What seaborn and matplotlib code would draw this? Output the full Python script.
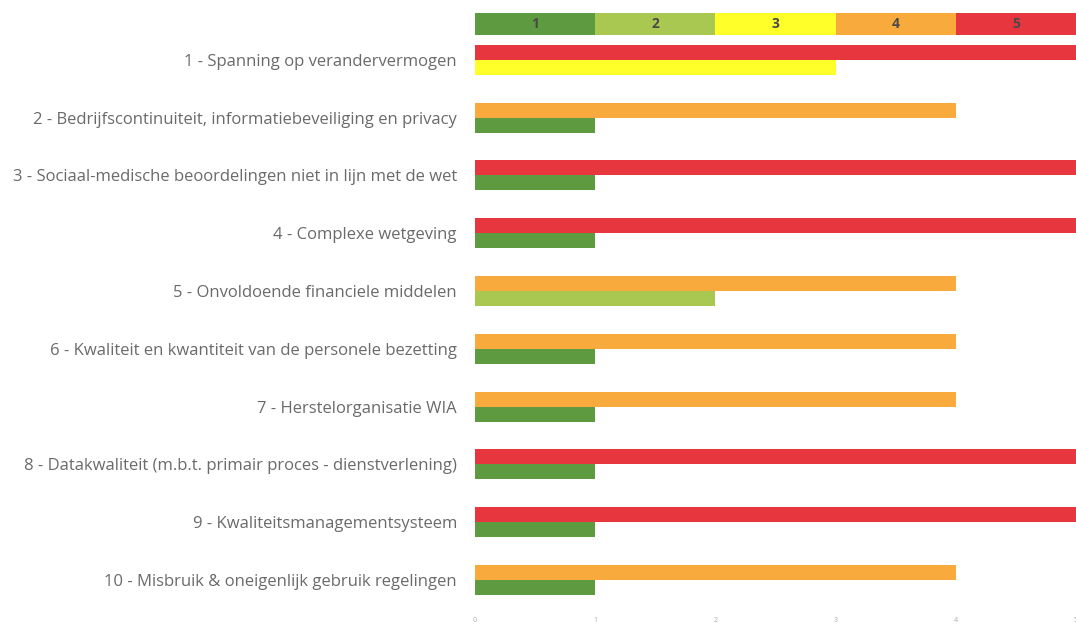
import matplotlib.pyplot as plt
import pandas as pd
import seaborn as sns

# risk names, gross (top bar) and net (bottom bar) scores
risks = [
    "1 - Spanning op verandervermogen",
    "2 - Bedrijfscontinuiteit, informatiebeveiliging en privacy",
    "3 - Sociaal-medische beoordelingen niet in lijn met de wet",
    "4 - Complexe wetgeving",
    "5 - Onvoldoende financiele middelen",
    "6 - Kwaliteit en kwantiteit van de personele bezetting",
    "7 - Herstelorganisatie WIA",
    "8 - Datakwaliteit (m.b.t. primair proces - dienstverlening)",
    "9 - Kwaliteitsmanagementsysteem",
    "10 - Misbruik & oneigenlijk gebruik regelingen",
]
bruto = [5, 4, 5, 5, 4, 4, 4, 5, 5, 4]
netto = [3, 1, 1, 1, 2, 1, 1, 1, 1, 1]

levels = [1, 2, 3, 4, 5]
level_colors = ["#5e9a3f", "#a9c851", "#ffff2a", "#f8ab3c", "#e8363e"]
x_ticks = [0, 1, 2, 3, 4, 5]

sns.set_theme(style="white")
plt.rcParams["font.family"] = ["Open Sans", "DejaVu Sans"]

df = pd.DataFrame({
    "Risico": risks * 2,
    "Score": bruto + netto,
    "Type": ["Bruto"] * len(risks) + ["Netto"] * len(risks),
})

fig = plt.figure(figsize=(10.76, 6.31), dpi=100)
ax = fig.add_axes([0.4414, 0.026, 0.5586, 0.934])

sns.barplot(data=df, x="Score", y="Risico", hue="Type", orient="h",
            width=0.52, gap=0, dodge=True, legend=False, ax=ax,
            order=risks, hue_order=["Bruto", "Netto"])

# colour every bar by its score
for p in ax.patches:
    w = p.get_width()
    if w > 0:
        p.set_facecolor(level_colors[int(round(w)) - 1])
        p.set_edgecolor("none")

ax.set_xlim(0, 5)
ax.set_ylim(9.6, -0.6)
ax.set_xticks(x_ticks)
ax.set_xticklabels([str(t) for t in x_ticks], fontsize=5, color="#aaaaaa")
ax.set_xlabel("")
ax.set_ylabel("")
ax.tick_params(axis="y", length=0, pad=13, labelsize=12, labelcolor="#6a6a6a")
ax.tick_params(axis="x", length=0, pad=2)
sns.despine(ax=ax, left=True, bottom=True)

# colour scale band on top
band = fig.add_axes([0.4414, 1 - 35 / 631, 0.5586, 22 / 631])
band.barh([0] * len(levels), [1] * len(levels), left=[l - 1 for l in levels],
          height=1, color=level_colors, edgecolor="none")
for l in levels:
    band.text(l - 0.5, 0, str(l), ha="center", va="center",
              fontsize=10, fontweight="bold", color="#4a4a4a")
band.set_xlim(0, 5)
band.set_ylim(-0.5, 0.5)
band.axis("off")

fig.savefig("out.png", dpi=100)
